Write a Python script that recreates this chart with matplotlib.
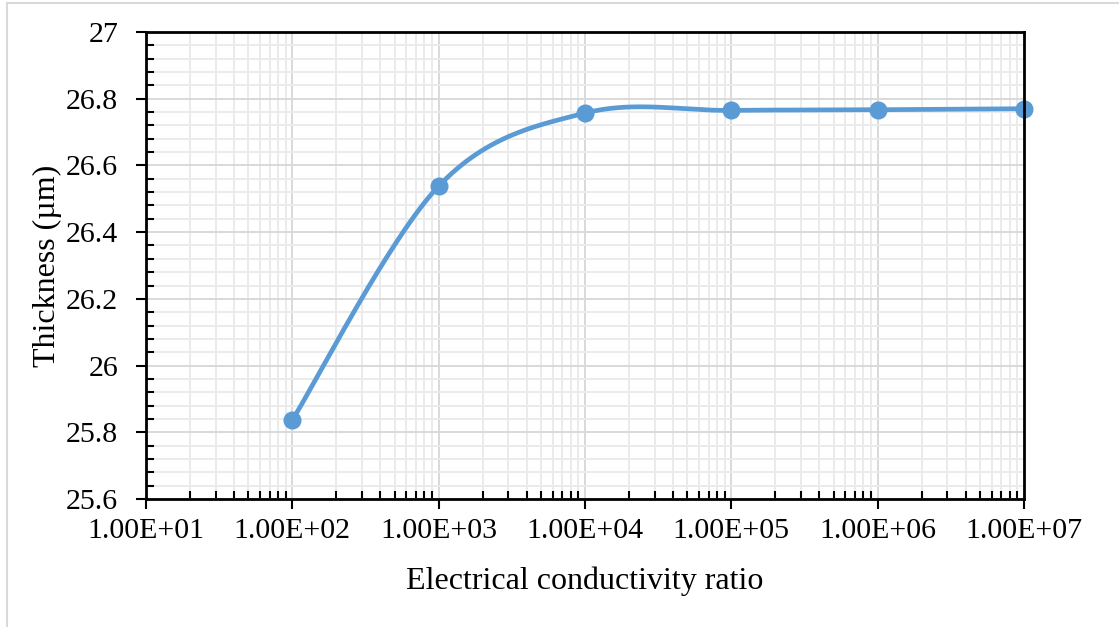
import numpy as np
import matplotlib
matplotlib.use('Agg')
import matplotlib.pyplot as plt
from matplotlib.ticker import LogLocator, MultipleLocator, FixedLocator, FuncFormatter
from matplotlib.lines import Line2D

plt.rcParams['font.family'] = ['Liberation Serif', 'DejaVu Serif']

# conductivity ratio vs. film thickness
conductivity_ratio = [1e2, 1e3, 1e4, 1e5, 1e6, 1e7]
thickness_um = [25.837, 26.538, 26.757, 26.765, 26.767, 26.770]
x_ticks = [1e1, 1e2, 1e3, 1e4, 1e5, 1e6, 1e7]
x_tick_labels = ['1.00E+01', '1.00E+02', '1.00E+03', '1.00E+04',
                 '1.00E+05', '1.00E+06', '1.00E+07']

line_color = '#5b9bd5'


def smooth_curve(x, y, n=60):
    """Catmull-Rom style smoothing (log-x space), like a spreadsheet smoothed line"""
    u = np.log10(np.asarray(x, dtype=float))
    v = np.asarray(y, dtype=float)
    pts = np.column_stack([u, v])
    out = []
    for i in range(len(pts) - 1):
        p0 = pts[i - 1] if i > 0 else pts[i]
        p1 = pts[i]
        p2 = pts[i + 1]
        p3 = pts[i + 2] if i + 2 < len(pts) else pts[i + 1]
        c1 = p1 + (p2 - p0) / 6.0
        c2 = p2 - (p3 - p1) / 6.0
        t = np.linspace(0, 1, n)[:, None]
        seg = ((1 - t) ** 3) * p1 + 3 * ((1 - t) ** 2) * t * c1 \
            + 3 * (1 - t) * t ** 2 * c2 + t ** 3 * p2
        out.append(seg if i == 0 else seg[1:])
    curve = np.vstack(out)
    return 10 ** curve[:, 0], curve[:, 1]


fig = plt.figure(figsize=(11.19, 6.27), dpi=100)
ax = fig.add_axes([146 / 1119, 1 - 499 / 627, 878 / 1119, 467 / 627])

ax.set_xscale('log')
ax.set_xlim(1e1, 1e7)
ax.set_ylim(25.6, 27.0)

# ticks: log minors on x, 0.04 steps on y
ax.xaxis.set_major_locator(FixedLocator(x_ticks))
ax.xaxis.set_minor_locator(LogLocator(base=10, subs=np.arange(2, 10)))
ax.set_xticks(x_ticks)
ax.set_xticklabels(x_tick_labels)
ax.yaxis.set_major_locator(MultipleLocator(0.2))
ax.yaxis.set_minor_locator(MultipleLocator(0.04))
ax.yaxis.set_major_formatter(FuncFormatter(lambda v, p: f'{v:g}'))

# grid: major darker, minor lighter
ax.grid(which='major', color='#d9d9d9', linewidth=1.4)
ax.grid(which='minor', color='#ebebeb', linewidth=1.4)
ax.set_axisbelow(True)

for side in ['left', 'bottom', 'top', 'right']:
    ax.spines[side].set_color('black')
    ax.spines[side].set_linewidth(2)
    ax.spines[side].set_zorder(5)

ax.tick_params(which='major', direction='out', length=7, width=1.5,
               labelsize=21.5, color='black')
ax.tick_params(axis='y', which='major', pad=13)
ax.tick_params(axis='x', which='major', pad=7)
ax.tick_params(which='minor', direction='in', length=6, width=1.5, color='black')
ax.tick_params(axis='y', which='both', right=False)
ax.tick_params(axis='x', which='both', top=False)

sx, sy = smooth_curve(conductivity_ratio, thickness_um)
ax.plot(sx, sy, color=line_color, linewidth=3.4, solid_capstyle='round', zorder=3)
ax.plot(conductivity_ratio, thickness_um, 'o', color=line_color,
        markersize=12, zorder=4, clip_on=False)

ax.set_xlabel('Electrical conductivity ratio', fontsize=23, labelpad=16)
ax.set_ylabel('Thickness (µm)', fontsize=23, labelpad=3)

# light outer frame (top and left edges)
fig.add_artist(Line2D([7 / 1119, 1], [1 - 3 / 627, 1 - 3 / 627],
                      transform=fig.transFigure, color='#d9d9d9', linewidth=1.5))
fig.add_artist(Line2D([7 / 1119, 7 / 1119], [0, 1 - 3 / 627],
                      transform=fig.transFigure, color='#d9d9d9', linewidth=1.5))

fig.savefig('out.png', dpi=100, facecolor='white')
